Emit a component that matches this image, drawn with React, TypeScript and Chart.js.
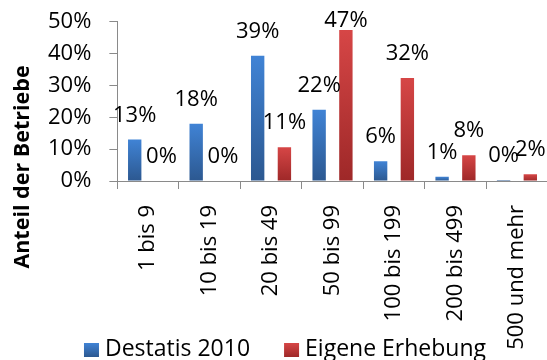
import React, { useEffect, useRef } from 'react';
import { Chart, registerables } from 'chart.js';

Chart.register(...registerables);

const categories = ['1 bis 9', '10 bis 19', '20 bis 49', '50 bis 99', '100 bis 199', '200 bis 499', '500 und mehr'];
const destatis2010 = [13.0, 18.0, 39.3, 22.4, 6.2, 1.3, 0.3];
const eigeneErhebung = [0, 0, 10.6, 47.4, 32.3, 8.1, 2.1];
const seriesNames = ['Destatis 2010', 'Eigene Erhebung'];
const yTickValues = [0, 10, 20, 30, 40, 50];
const yTitle = 'Anteil der Betriebe';

const FONT = '"Open Sans", sans-serif';
const BLUE = ['#4083d5', '#2c5890'];
const RED = ['#d64646', '#9e2828'];
const AXIS = '#8a8a8a';

function makeGrad(ctx: CanvasRenderingContext2D, top: number, bottom: number, cols: string[]) {
  const g = ctx.createLinearGradient(0, top, 0, bottom);
  g.addColorStop(0, cols[0]);
  g.addColorStop(1, cols[1]);
  return g;
}

function barFill(cols: string[]) {
  return (c: any) => {
    const chart = c.chart;
    const ys = chart.scales && chart.scales.y;
    if (!ys || c.type !== 'data') return cols[0];
    const top = ys.getPixelForValue(c.raw);
    const base = ys.getPixelForValue(0);
    if (!isFinite(top) || !isFinite(base) || Math.abs(base - top) < 1) return cols[1];
    return makeGrad(chart.ctx, top, base, cols);
  };
}

const valueLabels = {
  id: 'valueLabels',
  afterDatasetsDraw(chart: any) {
    const ctx = chart.ctx;
    ctx.save();
    ctx.font = `22px ${FONT}`;
    ctx.fillStyle = '#000';
    ctx.textAlign = 'center';
    ctx.textBaseline = 'alphabetic';
    chart.data.datasets.forEach((ds: any, i: number) => {
      const meta = chart.getDatasetMeta(i);
      meta.data.forEach((el: any, j: number) => {
        const v = ds.data[j];
        const y = Math.max(el.y - 18, 27);
        ctx.fillText(Math.round(v) + '%', el.x, y);
      });
    });
    ctx.restore();
  },
};

const extras = {
  id: 'extras',
  afterDraw(chart: any) {
    const ctx = chart.ctx;
    ctx.save();
    // y axis title
    ctx.font = `bold 21.5px ${FONT}`;
    ctx.fillStyle = '#000';
    ctx.textAlign = 'center';
    ctx.textBaseline = 'alphabetic';
    ctx.translate(29, 167);
    ctx.rotate(-Math.PI / 2);
    ctx.fillText(yTitle, 0, 0);
    ctx.restore();

    // legend
    ctx.save();
    ctx.font = `23px ${FONT}`;
    ctx.textBaseline = 'alphabetic';
    ctx.textAlign = 'left';
    const cols = [BLUE, RED];
    const box = 15, gap = 6, itemGap = 34;
    const widths = seriesNames.map((n) => box + gap + ctx.measureText(n).width);
    const total = widths.reduce((a, b) => a + b, 0) + itemGap;
    let x = 285 - total / 2;
    const base = 356;
    seriesNames.forEach((n, i) => {
      ctx.fillStyle = makeGrad(ctx, base - 13, base + 1, cols[i]);
      ctx.fillRect(x, base - 13, box, 14);
      ctx.fillStyle = '#000';
      ctx.fillText(n, x + box + gap, base);
      x += widths[i] + itemGap;
    });
    ctx.restore();
  },
};

export default function App() {
  const ref = useRef<HTMLCanvasElement>(null);
  useEffect(() => {
    if (!ref.current) return;
    const chart = new Chart(ref.current, {
      type: 'bar',
      data: {
        labels: categories,
        datasets: [
          { label: seriesNames[0], data: destatis2010, backgroundColor: barFill(BLUE), categoryPercentage: 0.87, barPercentage: 0.5 },
          { label: seriesNames[1], data: eigeneErhebung, backgroundColor: barFill(RED), categoryPercentage: 0.87, barPercentage: 0.5 },
        ],
      },
      options: {
        responsive: false,
        animation: false,
        devicePixelRatio: 1,
        layout: { padding: { left: 30, right: 9, top: 0, bottom: -2 } },
        plugins: { legend: { display: false }, tooltip: { enabled: false } },
        scales: {
          x: {
            grid: { display: true, drawOnChartArea: false, drawTicks: true, tickLength: 8, color: AXIS, offset: true },
            border: { color: AXIS, width: 1 },
            ticks: { color: '#000', font: { family: FONT, size: 22 }, minRotation: 90, maxRotation: 90, autoSkip: false, padding: 16 },
          },
          y: {
            min: 0,
            max: 50,
            afterBuildTicks: (s: any) => { s.ticks = yTickValues.map((v) => ({ value: v })); },
            grid: { display: true, drawOnChartArea: false, drawTicks: true, tickLength: 8, color: AXIS },
            border: { color: AXIS, width: 1 },
            ticks: { color: '#000', font: { family: FONT, size: 22, lineHeight: 0.34 }, padding: 18, autoSkip: false, callback: (v: any) => v + '%' },
          },
        },
      },
      plugins: [valueLabels, extras],
    });
    return () => chart.destroy();
  }, []);
  return (
    <div style={{ position: 'fixed', left: 0, top: 0, width: 547, height: 360, overflow: 'hidden', background: '#fff' }}>
      <canvas ref={ref} width={560} height={360} style={{ width: 560, height: 360, display: 'block' }} />
    </div>
  );
}
